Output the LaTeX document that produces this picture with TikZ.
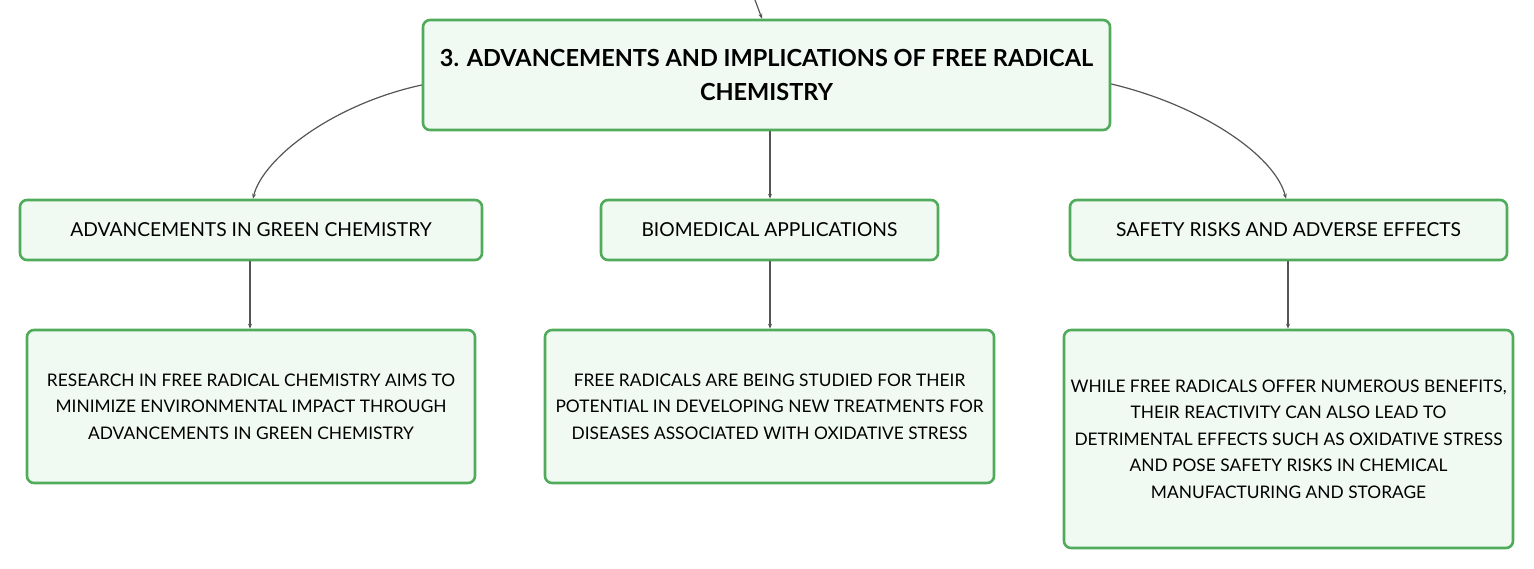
\documentclass[tikz,border=0pt]{standalone}
\usepackage{fontspec}
\setmainfont{Lato}
\usetikzlibrary{arrows.meta}
\definecolor{boxgreen}{RGB}{80,172,90}
\definecolor{boxfill}{RGB}{241,249,243}
\definecolor{edgegray}{RGB}{85,85,85}
\tikzset{
  box/.style={draw=boxgreen, line width=2.6bp, fill=boxfill, rounded corners=7bp, align=center, inner sep=0pt},
  titlebox/.style={box, font=\fontsize{23.6}{35}\selectfont\bfseries},
  headbox/.style={box, font=\fontsize{19.3}{26}\selectfont},
  textbox/.style={box, font=\fontsize{17.4}{26.5}\selectfont},
  conn/.style={draw=edgegray, line width=1.2bp, -{Stealth[length=5bp,width=4bp]}}
}
\begin{document}
\begin{tikzpicture}[x=1bp,y=-1bp]
\useasboundingbox (0,0) rectangle (1534,569);
\coordinate (top) at (755,0);
\node[titlebox, minimum width=687bp, minimum height=110bp] (t) at (766.5,75) {3. ADVANCEMENTS AND IMPLICATIONS OF FREE RADICAL\\CHEMISTRY};
\node[headbox, minimum width=462bp, minimum height=60bp] (a) at (251,230) {ADVANCEMENTS IN GREEN CHEMISTRY};
\node[headbox, minimum width=337bp, minimum height=60bp] (b) at (769.5,230) {BIOMEDICAL APPLICATIONS};
\node[headbox, minimum width=437bp, minimum height=60bp] (c) at (1288.5,230) {SAFETY RISKS AND ADVERSE EFFECTS};
\node[textbox, minimum width=448bp, minimum height=153bp] (d) at (251,406.5) {RESEARCH IN FREE RADICAL CHEMISTRY AIMS TO\\MINIMIZE ENVIRONMENTAL IMPACT THROUGH\\ADVANCEMENTS IN GREEN CHEMISTRY};
\node[textbox, minimum width=449bp, minimum height=153bp] (e) at (769.5,406.5) {FREE RADICALS ARE BEING STUDIED FOR THEIR\\POTENTIAL IN DEVELOPING NEW TREATMENTS FOR\\DISEASES ASSOCIATED WITH OXIDATIVE STRESS};
\node[textbox, minimum width=449bp, minimum height=218bp] (f) at (1288.5,439) {WHILE FREE RADICALS OFFER NUMEROUS BENEFITS,\\THEIR REACTIVITY CAN ALSO LEAD TO\\DETRIMENTAL EFFECTS SUCH AS OXIDATIVE STRESS\\AND POSE SAFETY RISKS IN CHEMICAL\\MANUFACTURING AND STORAGE};
\draw[conn] (top) -- (t.north -| 762,0);
\draw[conn] (t.west |- 0,85) .. controls (330,105) and (262,160) .. (a.north -| 253,0);
\draw[conn] (t.south -| 770,0) -- (b.north -| 770,0);
\draw[conn] (t.east |- 0,84) .. controls (1200,105) and (1275,155) .. (c.north -| 1286,0);
\draw[conn] (a.south -| 250,0) -- (d.north -| 250,0);
\draw[conn] (b.south -| 770,0) -- (e.north -| 770,0);
\draw[conn] (c.south -| 1288,0) -- (f.north -| 1288,0);
\end{tikzpicture}
\end{document}
